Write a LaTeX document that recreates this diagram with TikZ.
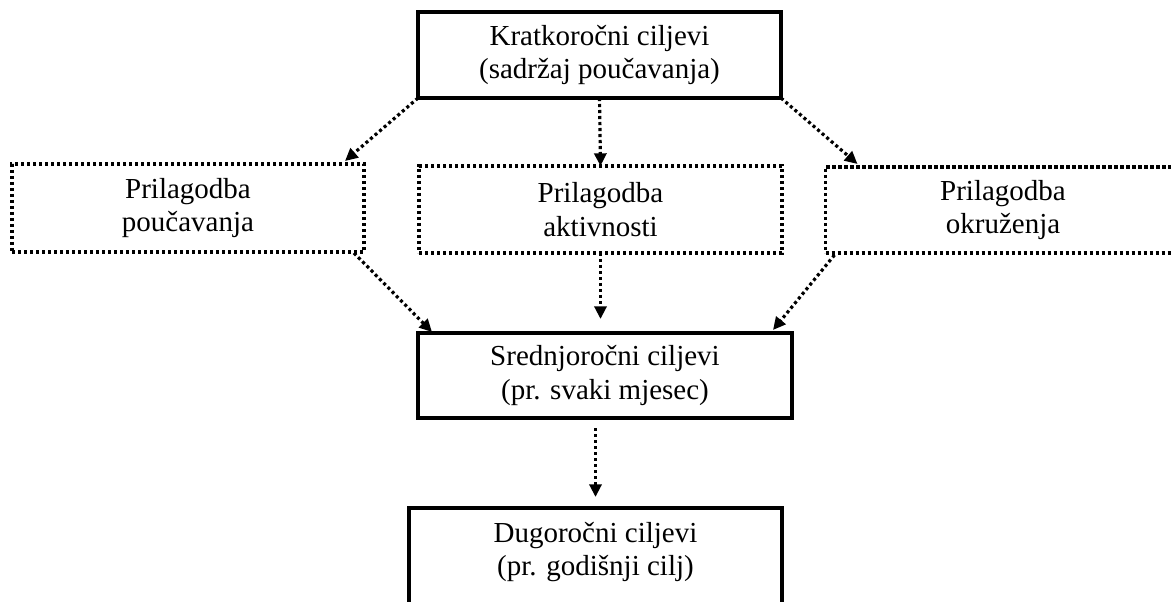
\documentclass[tikz,border=0pt]{standalone}
\usepackage{fontspec}
\setmainfont{Liberation Serif}
\usetikzlibrary{arrows.meta,calc}
\tikzset{
  txt/.style={align=center, font=\fontsize{21.75pt}{25pt}\selectfont, inner sep=0pt, outer sep=0pt},
  solidbox/.style={txt, draw, line width=2.4pt},
  dotbox/.style={txt, draw, line width=2.4pt, dash pattern=on 2.3pt off 2.2pt},
  conn/.style={line width=2.4pt, dash pattern=on 2.3pt off 2.2pt, -{Triangle[length=9.5pt,width=9pt]}}
}
\begin{document}
\begin{tikzpicture}[x=0.75pt,y=-0.75pt]
\useasboundingbox (0,0) rectangle (1171,602);
\clip (0,0) rectangle (1171,602);
\fill[white] (0,0) rectangle (1171,602);

\node[solidbox, minimum width=363*0.75pt, minimum height=86*0.75pt] (top) at (599.5,55) {Kratkoročni ciljevi\\(sadržaj poučavanja)};
\node[dotbox, minimum width=352*0.75pt, minimum height=88*0.75pt] (left) at (188,208) {Prilagodba\\poučavanja};
\node[dotbox, minimum width=363*0.75pt, minimum height=87*0.75pt] (mid) at (600.5,209.5) {Prilagodba\\aktivnosti};
\node[dotbox, minimum width=355*0.75pt, minimum height=86*0.75pt] (right) at (1003,210) {Prilagodba\\okruženja};
\node[solidbox, minimum width=374*0.75pt, minimum height=85*0.75pt] (sred) at (605,375.5) {Srednjoročni ciljevi\\(pr. svaki mjesec)};
\node[txt, minimum width=373*0.75pt, minimum height=88*0.75pt] (dug) at (595.5,552) {Dugoročni ciljevi\\(pr. godišnji cilj)};
\draw[line width=3pt] ($(dug.south west)+(0,30)$) -- (dug.north west) -- (dug.north east) -- ($(dug.south east)+(0,30)$);

\coordinate (lt) at ($(left.north east)+(-19,-3)$);
\coordinate (rt) at ($(right.north west)+(32,-3)$);
\coordinate (ls) at ($(left.south east)+(-10,1)$);
\coordinate (st1) at ($(sred.north west)+(14,-1)$);
\coordinate (rs) at ($(right.south west)+(9,2)$);
\coordinate (st3) at ($(sred.north east)+(-19,-3)$);

\draw[conn] (top.south west) -- (lt);
\draw[conn] (top.south) -- (mid.north);
\draw[conn] (top.south east) -- (rt);
\draw[conn] (ls) -- (st1);
\draw[conn, shorten >=10.5pt] (mid.south) -- (mid.south |- sred.north);
\draw[conn] (rs) -- (st3);
\draw[conn, shorten <=7.5pt, shorten >=8.25pt] (sred.south -| dug.north) -- (dug.north);
\end{tikzpicture}
\end{document}
